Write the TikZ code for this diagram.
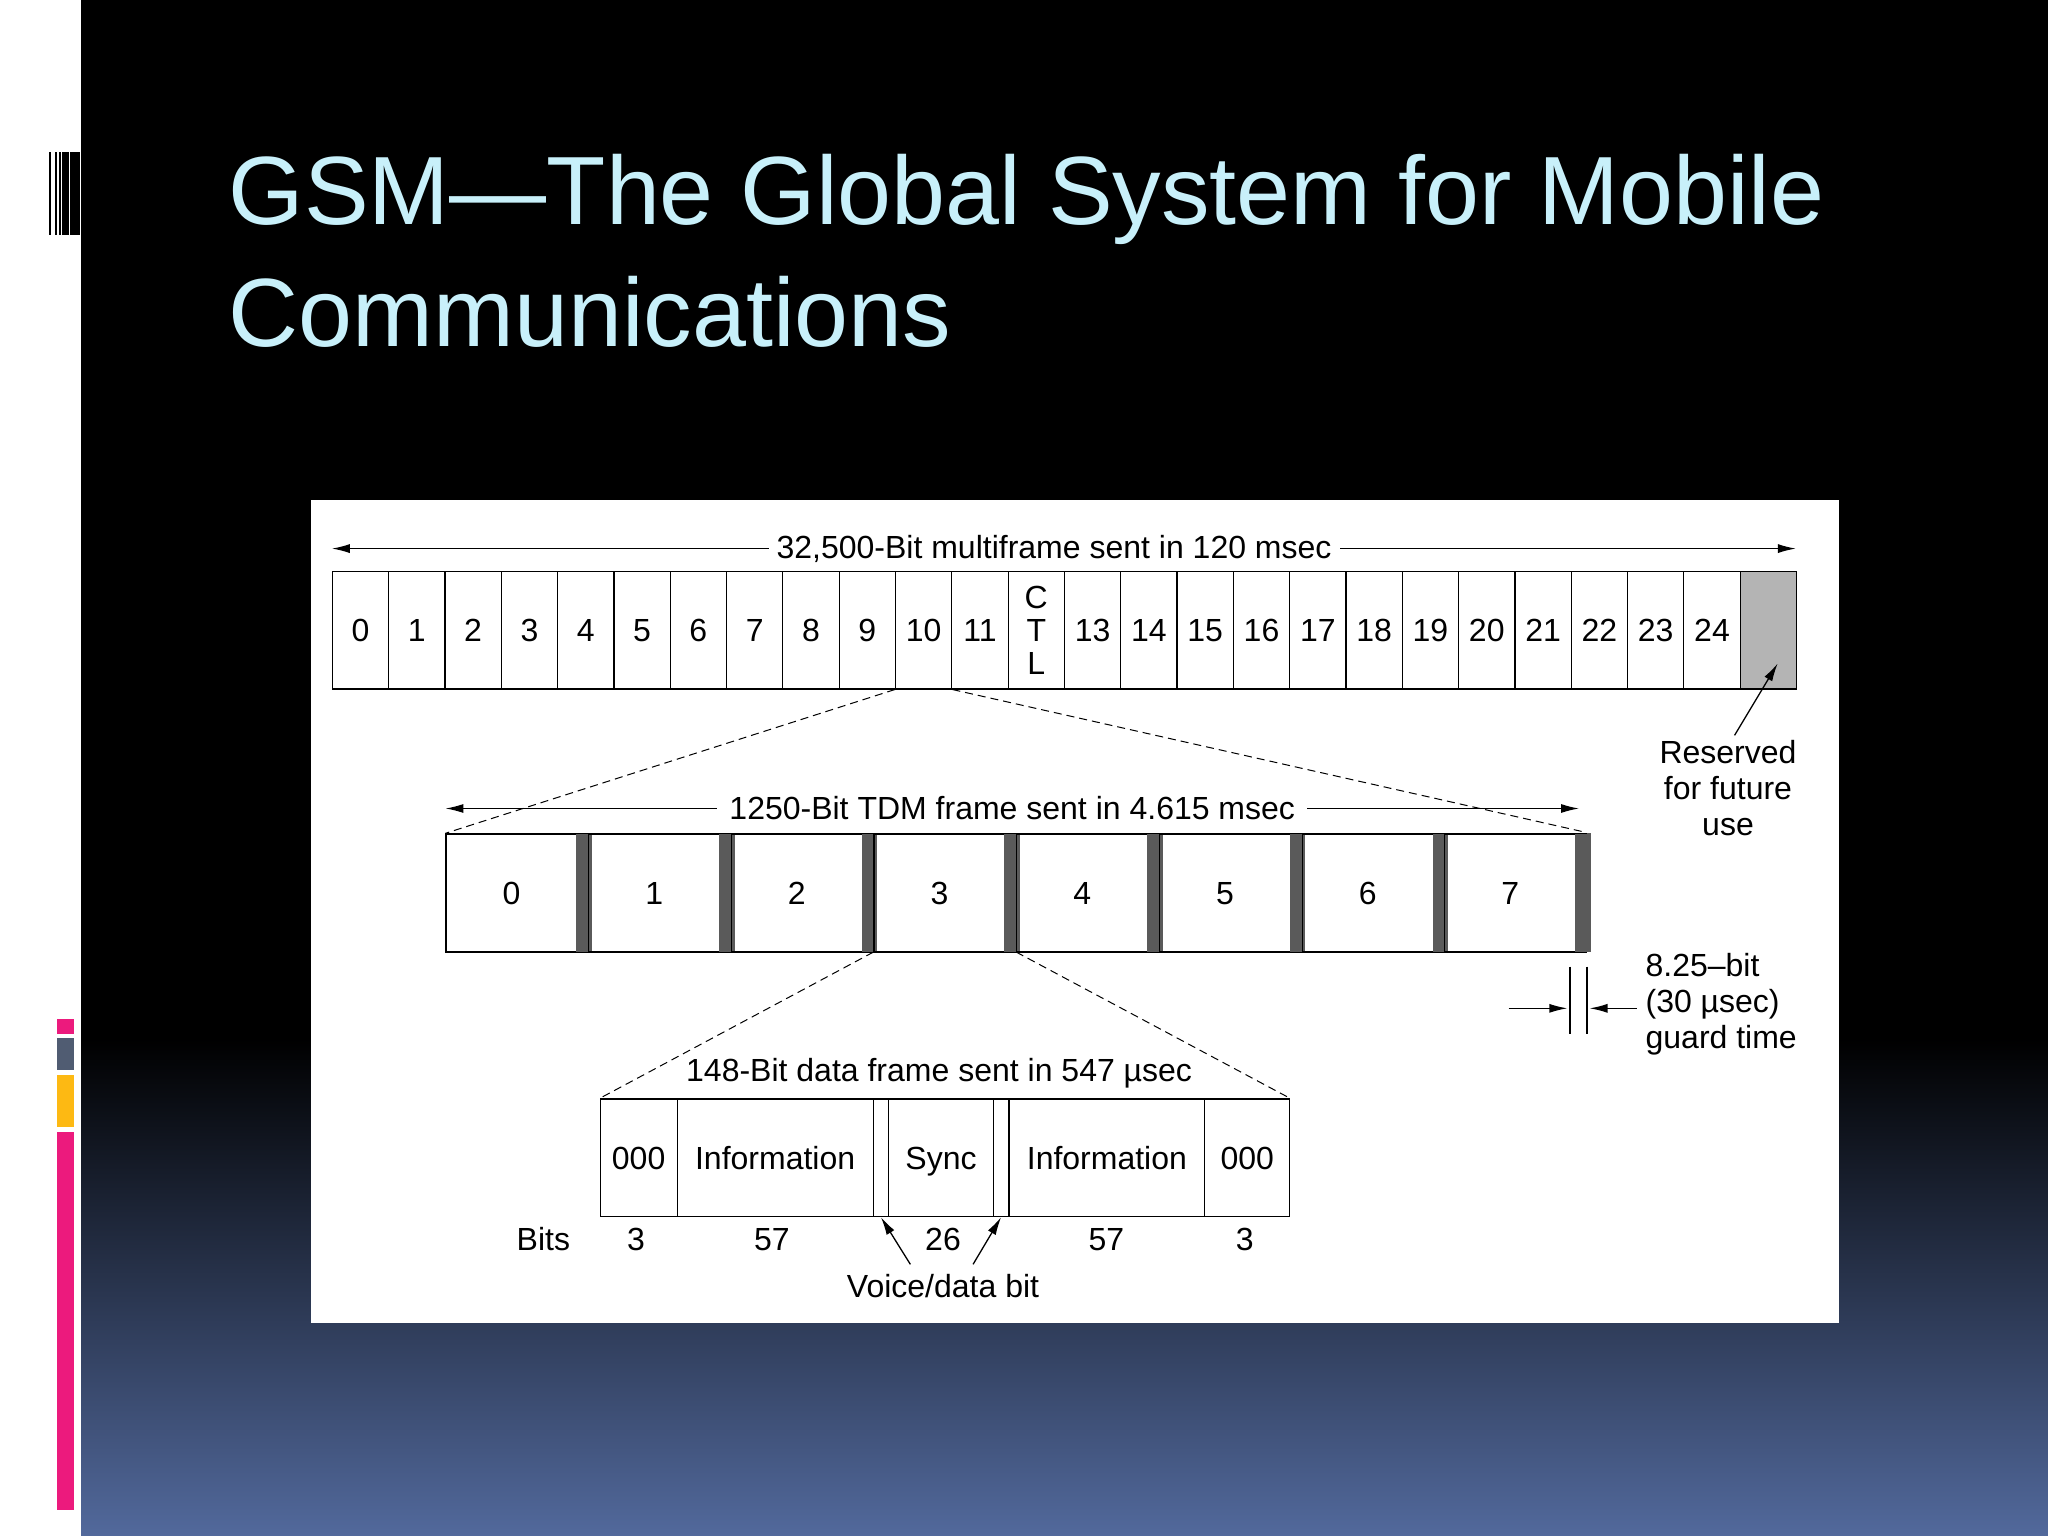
\documentclass[tikz,border=0pt]{standalone}
\usepackage{fontspec}
\setmainfont{Liberation Sans}
\usetikzlibrary{arrows.meta}
\definecolor{titlec}{HTML}{C8F0FA}
\definecolor{guard}{HTML}{5A5A5A}
\definecolor{resv}{HTML}{B4B4B4}
\definecolor{pinkb}{HTML}{EC1A7D}
\definecolor{slateb}{HTML}{505C72}
\definecolor{yellowb}{HTML}{FDB913}
\definecolor{bluebot}{HTML}{52699C}
\tikzset{
  cell/.style={draw=black,line width=1.2pt,minimum height=90*1.30612pt,inner sep=0pt,text height=23pt,text depth=0pt,font=\fontsize{32}{34}\selectfont},
  lbl/.style={font=\fontsize{32}{36}\selectfont,inner sep=1pt},
  dim/.style={line width=1.3pt,-{Latex[length=18pt,width=9pt]}},
  dashl/.style={dashed,line width=1pt,dash pattern=on 8pt off 5pt},
}
\begin{document}
\begin{tikzpicture}[x=1.30612pt,y=-1.30612pt]
\useasboundingbox (0,0) rectangle (1568,1176);
% background
\fill[black] (62,0) rectangle (1568,800);
\shade[top color=black,bottom color=bluebot] (62,795) rectangle (1568,1176);
\fill[white] (0,0) rectangle (62,1176);
% barcode
\fill[black] (37.5,116) rectangle (39,180);
\fill[black] (42,116) rectangle (43.5,180);
\fill[black] (45.5,116) rectangle (46.7,180);
\fill[black] (47.5,116) rectangle (61,180);
\fill[white] (52.5,116) rectangle (53.3,180);
% colour bars
\fill[pinkb] (43.6,780) rectangle (56.6,792);
\fill[slateb] (43.6,795) rectangle (56.6,819);
\fill[yellowb] (43.6,823) rectangle (56.6,863);
\fill[pinkb] (43.6,867) rectangle (56.6,1156);
% title
\node[anchor=base west,text=titlec,font=\fontsize{97}{100}\selectfont,inner sep=0pt] (t1) at (175,172) {GSM—The Global System for Mobile};
\node[anchor=base west,text=titlec,font=\fontsize{97}{100}\selectfont,inner sep=0pt] (t2) at (175,265) {Communications};
% panel
\fill[white] (238,383) rectangle (1408,1013);
% multiframe
\foreach \i/\t in {0/0,1/1,2/2,3/3,4/4,5/5,6/6,7/7,8/8,9/9,10/10,11/11,13/13,14/14,15/15,16/16,17/17,18/18,19/19,20/20,21/21,22/22,23/23,24/24}{
  \node[cell,minimum width=43.1*1.30612pt,anchor=north west] (m\i) at ({254+43.115*\i},437) {\t};
}
\node[cell,minimum width=43.1*1.30612pt,anchor=north west,text height=,text depth=,align=center,font=\fontsize{32}{33}\selectfont] (m12) at ({254+43.115*12},437) {C\\T\\L};
\node[cell,fill=resv,minimum width=43.1*1.30612pt,anchor=north west] (m25) at ({254+43.115*25},437) {};
\coordinate (mL) at (254,420); \coordinate (mR) at (1375,420);
\draw[dim] (807,420) -- (mL);
\draw[dim] (807,420) -- (mR);
\node[lbl,fill=white,inner xsep=8pt] (mt) at (807,420) {32,500-Bit multiframe sent in 120 msec};
% TDM frame
\foreach \i in {0,...,7}{
  \node[cell,minimum width=100.3*1.30612pt,anchor=north west] (f\i) at ({341+109.25*\i},638) {\i};
  \fill[guard] ({441.3+109.25*\i},638) rectangle ({453.2+109.25*\i},729);
}
\draw[line width=1.2pt] (341,638) -- (1215,638);
\draw[line width=1.2pt] (341,729) -- (1215,729);
\coordinate (fL) at (341,619); \coordinate (fR) at (1209,619);
\draw[dim] (775,619) -- (fL);
\draw[dim] (775,619) -- (fR);
\node[lbl,fill=white,inner xsep=12pt] (ft) at (775,619) {1250-Bit TDM frame sent in 4.615 msec};
\draw[dashl] (m10.south west) -- (f0.north west);
\draw[dashl] (m10.south east) -- (1213,637);
% data frame
\node[cell,minimum width=59*1.30612pt,anchor=north west] (d0) at (459,841) {000};
\node[cell,minimum width=150*1.30612pt,anchor=north west] (d1) at (518,841) {Information};
\node[cell,minimum width=12*1.30612pt,anchor=north west] (d2) at (668,841) {};
\node[cell,minimum width=80*1.30612pt,anchor=north west] (d3) at (680,841) {Sync};
\node[cell,minimum width=12*1.30612pt,anchor=north west] (d4) at (760,841) {};
\node[cell,minimum width=150*1.30612pt,anchor=north west] (d5) at (772,841) {Information};
\node[cell,minimum width=65*1.30612pt,anchor=north west] (d6) at (922,841) {000};
\draw[dashl] (f3.south west) -- (d0.north west);
\draw[dashl] (f4.south west) -- (d6.north east);
\node[lbl] (dt) at (719,822) {148-Bit data frame sent in 547 µsec};
\node[lbl] (b0) at (416,949) {Bits};
\node[lbl] (b1) at (487,949) {3};
\node[lbl] (b2) at (591,949) {57};
\node[lbl] (b3) at (722,949) {26};
\node[lbl] (b4) at (847,949) {57};
\node[lbl] (b5) at (953,949) {3};
\node[lbl] (vd) at (722,985) {Voice/data bit};
\draw[dim] (697,968) -- (d2.south);
\draw[dim] (745,968) -- (d4.south);
% reserved
\node[lbl,align=center] (rs) at (1323,603) {Reserved\\for future\\use};
\draw[dim] (1328,563) -- (1361,508);
% guard time
\coordinate (g1) at (1202,740); \coordinate (g1b) at (1202,792);
\coordinate (g2) at (1215,740); \coordinate (g2b) at (1215,792);
\draw[line width=1.2pt] (g1) -- (g1b);
\draw[line width=1.2pt] (g2) -- (g2b);
\draw[dim] (1155,772) -- (1200,772);
\draw[dim] (1253,772) -- (1217,772);
\node[lbl,align=left,anchor=west] (gt) at (1259,769) {8.25–bit\\(30 µsec)\\guard time};
\end{tikzpicture}
\end{document}
